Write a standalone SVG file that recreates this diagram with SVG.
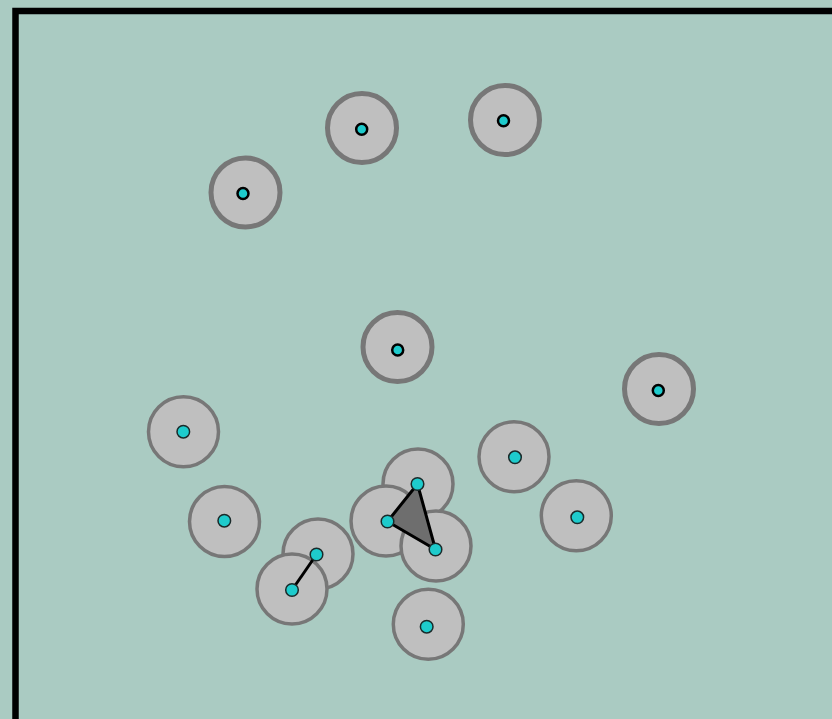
<svg xmlns="http://www.w3.org/2000/svg" width="832" height="719" viewBox="0 0 832 719">
<style>
.bg{fill:#aacbc2}
.frame{fill:none;stroke:#000;stroke-width:6.5}
.ball1{fill:#bfbfbf;stroke:#777;stroke-width:5}
.ball2{fill:#bfbfbf;stroke:#777;stroke-width:3.5}
.pt1{fill:#1ecbcc;stroke:#000;stroke-width:2.5}
.pt2{fill:#1ecbcc;stroke:#1a2a2a;stroke-width:1.5}
.edge{stroke:#000;stroke-width:3;fill:none}
.tri{fill:#6e6e6e;stroke:#000;stroke-width:3;stroke-linejoin:round}
</style>
<rect class="bg" x="0" y="0" width="832" height="719"/>
<rect class="frame" x="15.5" y="11" width="830" height="720"/>
<g id="ball-A"><circle class="ball1" cx="245.5" cy="192.5" r="34.5"/></g>
<g id="ball-B"><circle class="ball1" cx="362" cy="128" r="34.5"/></g>
<g id="ball-C"><circle class="ball1" cx="505" cy="120" r="34.5"/></g>
<g id="ball-D"><circle class="ball1" cx="397.5" cy="347" r="34.5"/></g>
<g id="ball-E"><circle class="ball1" cx="659" cy="389" r="34.5"/></g>
<g id="ball-F"><circle class="ball2" cx="183.5" cy="431.7" r="35"/></g>
<g id="ball-G"><circle class="ball2" cx="224.5" cy="521.5" r="35"/></g>
<g id="ball-H"><circle class="ball2" cx="318" cy="554" r="35"/></g>
<g id="ball-I"><circle class="ball2" cx="292" cy="589" r="35"/></g>
<g id="ball-J"><circle class="ball2" cx="418" cy="484" r="35"/></g>
<g id="ball-K"><circle class="ball2" cx="386" cy="521" r="35"/></g>
<g id="ball-L"><circle class="ball2" cx="436" cy="546" r="35"/></g>
<g id="ball-M"><circle class="ball2" cx="514" cy="456.7" r="35"/></g>
<g id="ball-N"><circle class="ball2" cx="576.3" cy="515.8" r="35"/></g>
<g id="ball-O"><circle class="ball2" cx="428.3" cy="624.2" r="35"/></g>
<g id="connectors">
<line class="edge" x1="316.5" y1="554.5" x2="292" y2="590"/>
<polygon class="tri" points="417.5,484 387.5,521.5 435.5,549.5"/>
</g>
<g id="point-A"><circle class="pt1" cx="243" cy="193.5" r="5.5"/></g>
<g id="point-B"><circle class="pt1" cx="361.7" cy="129.3" r="5.5"/></g>
<g id="point-C"><circle class="pt1" cx="503.5" cy="120.7" r="5.5"/></g>
<g id="point-D"><circle class="pt1" cx="397.7" cy="350" r="5.5"/></g>
<g id="point-E"><circle class="pt1" cx="658.3" cy="390.5" r="5.5"/></g>
<g id="point-F"><circle class="pt2" cx="183.3" cy="431.7" r="6.3"/></g>
<g id="point-G"><circle class="pt2" cx="224.3" cy="520.7" r="6.3"/></g>
<g id="point-H"><circle class="pt2" cx="316.5" cy="554.5" r="6.3"/></g>
<g id="point-I"><circle class="pt2" cx="292" cy="590" r="6.3"/></g>
<g id="point-J"><circle class="pt2" cx="417.5" cy="484" r="6.3"/></g>
<g id="point-K"><circle class="pt2" cx="387.5" cy="521.5" r="6.3"/></g>
<g id="point-L"><circle class="pt2" cx="435.5" cy="549.5" r="6.3"/></g>
<g id="point-M"><circle class="pt2" cx="515" cy="457.3" r="6.3"/></g>
<g id="point-N"><circle class="pt2" cx="577.3" cy="517.3" r="6.3"/></g>
<g id="point-O"><circle class="pt2" cx="426.7" cy="626.7" r="6.3"/></g>
</svg>
